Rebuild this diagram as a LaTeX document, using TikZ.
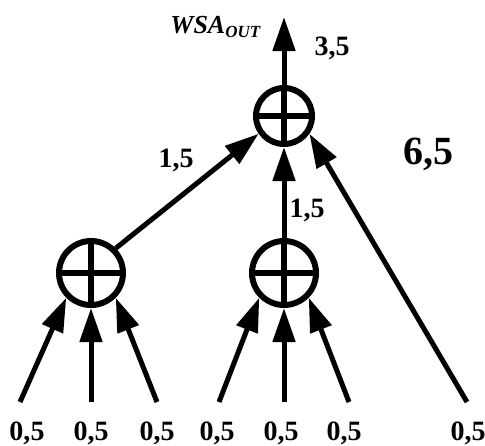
\documentclass[tikz,border=0pt]{standalone}
\usepackage{fontspec}
\setmainfont{Liberation Serif}
\usetikzlibrary{arrows.meta,calc,positioning}
\tikzset{
	adder diagram/.style={
		x=.5pt, y=-.5pt,
		ar/.style={draw,line width=2.5pt,-{Triangle[length=17pt,width=11pt]}},
		val/.style={font=\bfseries\fontsize{14}{14}\selectfont,inner sep=0pt,anchor=base},
		},
	adder/.style={draw,circle,line width=3pt,minimum size=#1,inner sep=0pt,
		path picture={\draw[line width=3pt]
			(path picture bounding box.north) -- (path picture bounding box.south)
			(path picture bounding box.west) -- (path picture bounding box.east);}},
	adder/.default=32pt
}

\begin{document}
\begin{tikzpicture}[adder diagram]
	\useasboundingbox (0,0) rectangle (485,445);
	\node[adder=28pt] (sumT) at (284,116) {};
	\node[adder] (sumL) at (91,273) {};
	\node[adder] (sumM) at (284,273) {};
	\coordinate (out) at (284,17);
	\foreach \i/\x/\lx in {1/20/27,2/91/91,3/157/157,4/219/217,5/284/281,6/349/344,7/467/468} {
		\coordinate (in\i) at (\x,402);
		\node[val] (v\i) at (\lx,440) {0,5};
	}
	\draw[ar] (sumT) -- (out);
	\draw[ar] (in1) -- (sumL.225);
	\draw[ar] (in2) -- (sumL);
	\draw[ar] (in3) -- (sumL.-45);
	\draw[ar] (in4) -- (sumM.225);
	\draw[ar] (in5) -- (sumM);
	\draw[ar] (in6) -- (sumM.-45);
	\draw[ar] (sumL.45) -- (sumT.215);
	\draw[ar] (sumM) -- (sumT);
	\draw[ar] (in7) -- (sumT.-35);
	% labels
	\node[font=\bfseries\itshape\fontsize{13}{13}\selectfont,inner sep=0pt,anchor=base west] (wsa) at (170,33)
		{WSA{\fontsize{8.5}{8.5}\selectfont\raisebox{-2pt}{OUT}}};
	\node[val] (l35) at (332,55) {3,5};
	\node[val] (l15a) at (176,167) {1,5};
	\node[val] (l15b) at (307,217) {1,5};
	\node[val,font=\bfseries\fontsize{20}{20}\selectfont] (l65) at (428,164) {6,5};
\end{tikzpicture}
\end{document}
